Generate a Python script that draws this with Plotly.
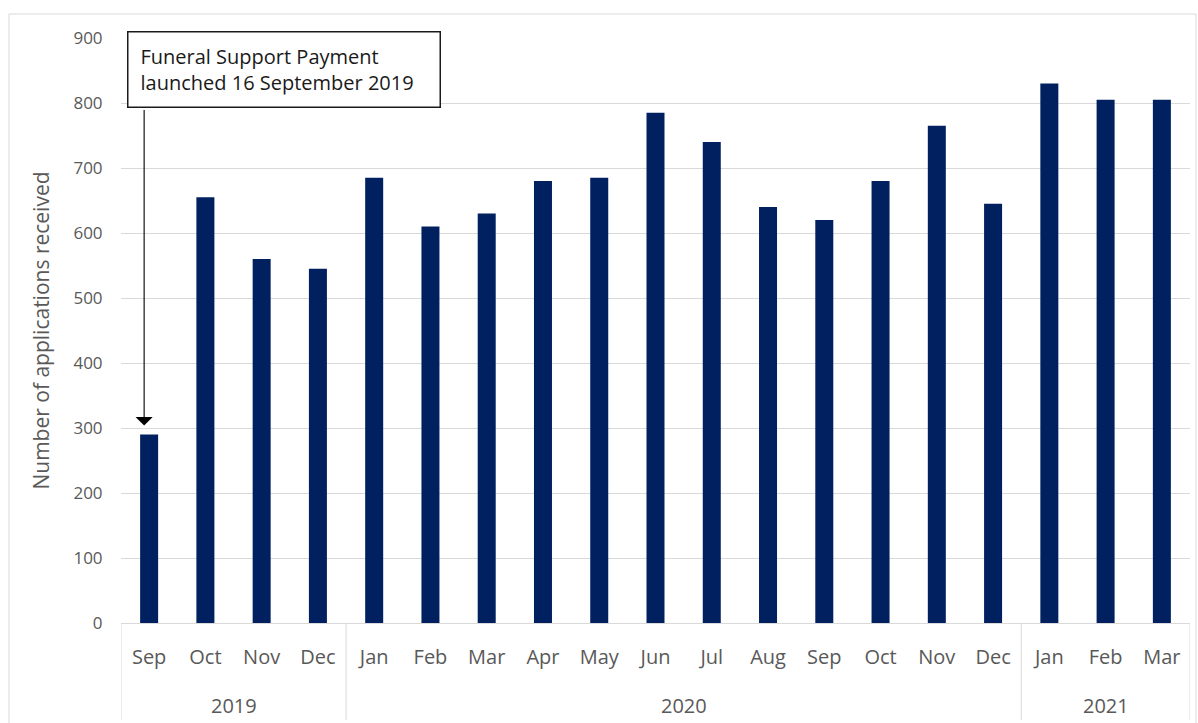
import plotly.graph_objects as go

year_groups = ["2019", "2020", "2021"]
year_counts = [4, 12, 3]
months = ["Sep", "Oct", "Nov", "Dec",
          "Jan", "Feb", "Mar", "Apr", "May", "Jun", "Jul", "Aug", "Sep", "Oct", "Nov", "Dec",
          "Jan", "Feb", "Mar"]
applications = [290, 655, 560, 545,
                685, 610, 630, 680, 685, 785, 740, 640, 620, 680, 765, 645,
                830, 805, 805]
y_ticks = [0, 100, 200, 300, 400, 500, 600, 700, 800, 900]
note_text = "Funeral Support Payment<br>launched 16 September 2019"

FONT = "Open Sans"
GRAY = "#595959"
LIGHT = "#d9d9d9"

W, H = 1198, 723
ML, MR, MT, MB = 121, 8, 38, 100
PW, PH = W - ML - MR, H - MT - MB

x_idx = list(range(len(months)))

fig = go.Figure(go.Bar(
    x=x_idx,
    y=applications,
    marker=dict(color="#002060", line=dict(width=0)),
    width=0.32,
    hoverinfo="y",
))

fig.update_layout(
    width=W, height=H,
    margin=dict(l=ML, r=MR, t=MT, b=MB, autoexpand=False),
    paper_bgcolor="white", plot_bgcolor="white",
    showlegend=False,
    font=dict(family=FONT, color=GRAY),
)
fig.update_yaxes(
    range=[0, 900], tickvals=y_ticks,
    showgrid=True, gridcolor=LIGHT, gridwidth=1,
    zeroline=False, showline=False,
    ticks="outside", ticklen=14, tickcolor="rgba(0,0,0,0)",
    tickfont=dict(size=17, color=GRAY, family=FONT),
    title=dict(text="Number of applications received",
               font=dict(size=21, color=GRAY, family=FONT), standoff=18),
)
fig.update_xaxes(
    range=[-0.5, len(months) - 0.5],
    tickvals=x_idx, ticktext=months,
    showline=True, linecolor=LIGHT, linewidth=1,
    ticks="outside", ticklen=16, tickcolor="rgba(0,0,0,0)",
    tickfont=dict(size=20, color=GRAY, family=FONT),
    showgrid=False, zeroline=False,
)

# year group labels and dividers
start = 0
bounds = [-0.5]
for yr, n in zip(year_groups, year_counts):
    centre = start + (n - 1) / 2
    fig.add_annotation(x=centre, xref="x", y=0, yref="paper", yanchor="middle",
                       yshift=-82, text=yr, showarrow=False,
                       font=dict(size=20, color=GRAY, family=FONT))
    start += n
    bounds.append(start - 0.5)
for b in bounds:
    fig.add_shape(type="line", xref="x", yref="paper", x0=b, x1=b,
                  y0=0, y1=-(H - 3 - (MT + PH)) / PH,
                  line=dict(color=LIGHT, width=1))

# annotation box
fig.add_annotation(
    xref="paper", yref="paper", x=(127 - ML) / PW, y=1 + (MT - 31) / PH,
    xanchor="left", yanchor="top",
    text=note_text,
    align="left", valign="middle", showarrow=False,
    font=dict(size=20, color="#1a1a1a", family=FONT),
    bgcolor="white", bordercolor="#1a1a1a", borderwidth=1.5, borderpad=12,
    width=287, height=50,
)
# arrow to the first bar
fig.add_annotation(
    x=x_idx[0], y=applications[0], xref="x", yref="y",
    text="", showarrow=True, arrowhead=1, arrowsize=2.6, arrowwidth=1.1,
    arrowcolor="black", ax=0, ay=-326, standoff=9, xshift=-5,
)
# outer frame
fig.add_shape(type="rect", xref="paper", yref="paper",
              x0=(9 - ML) / PW, x1=(1196 - ML) / PW,
              y0=-(H + 5 - MT - PH) / PH, y1=1 + (MT - 14) / PH,
              line=dict(color=LIGHT, width=1), fillcolor="rgba(0,0,0,0)", layer="below")

fig.write_html("out.html",
               config={"displayModeBar": False},
               post_script="document.body.style.margin='0';document.body.style.overflow='hidden';")
